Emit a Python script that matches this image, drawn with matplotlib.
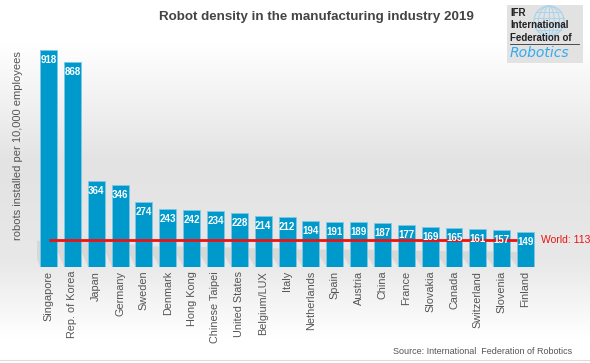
import matplotlib
matplotlib.use("Agg")
import matplotlib.pyplot as plt
import numpy as np
from matplotlib.patches import Polygon, Rectangle, Ellipse

countries = ["Singapore", "Rep. of Korea", "Japan", "Germany", "Sweden", "Denmark",
             "Hong Kong", "Chinese Taipei", "United States", "Belgium/LUX", "Italy",
             "Netherlands", "Spain", "Austria", "China", "France", "Slovakia",
             "Canada", "Switzerland", "Slovenia", "Finland"]
density = [918, 868, 364, 346, 274, 243, 242, 234, 228, 214, 212,
           194, 191, 189, 187, 177, 169, 165, 161, 157, 149]
world_avg = 113

title = "Robot density in the manufacturing industry 2019"
ylabel = "robots installed per 10,000 employees"
source = "Source: International  Federation of Robotics"

plt.rcParams['font.family'] = ['Liberation Sans', 'DejaVu Sans']

W, H = 590, 363
fig = plt.figure(figsize=(W / 100, H / 100), dpi=100)

# background gradient
bg = fig.add_axes([0, 0, 1, 1], zorder=-10)
ys = np.linspace(0, 1, 400)
stops_y = [0.0, 0.12, 0.45, 0.72, 0.93, 1.0]
stops_v = [1.0, 1.0, 0.89, 0.91, 1.0, 1.0]
vals = np.interp(ys, stops_y, stops_v)
img = np.repeat(vals[:, None], 2, axis=1)
bg.imshow(np.dstack([img, img, img]), aspect='auto', extent=[0, 1, 1, 0], interpolation='bilinear')
bg.set_xlim(0, 1); bg.set_ylim(1, 0)
bg.axis('off')
bg.plot([0, 1], [0.993, 0.993], color='#dcdcdc', lw=0.8)

# main axes
L = 36.6; Wd = 500.9
bottom_px = 266.7; top_px = 42.5
ax = fig.add_axes([L / W, (H - bottom_px) / H, Wd / W, (bottom_px - top_px) / H])
ax.patch.set_alpha(0)
x = np.arange(len(countries))
bw = 0.71
ax.set_xlim(-0.5, len(countries) - 0.5)
ax.set_ylim(0, 950)

# shadows
for xi, v in zip(x, density):
    hgt = min(0.25 * v + 25, 110)
    s = 0.45
    poly = Polygon([(xi - bw / 2, 0), (xi + bw / 2, 0), (xi + bw / 2 - s, hgt), (xi - bw / 2 - s, hgt)],
                   closed=True, facecolor='#9a9a9a', alpha=0.2, edgecolor='none', zorder=1)
    ax.add_patch(poly)

bars = ax.bar(x, density, width=bw, color='#0099cc', edgecolor='#7cc8e6', linewidth=0.6, zorder=2)
for xi, v in zip(x, density):
    ax.annotate(str(v), (xi, v), xytext=(0, -10), textcoords='offset pixels',
                ha='center', va='center', color='white', fontsize=7, fontweight='bold', zorder=4)

ax.plot([x[0], x[-1] - 0.35], [world_avg, world_avg], color='#ee1111', lw=2, zorder=3, solid_capstyle='butt')
ax.text(x[-1] + 0.65, world_avg, f"World: {world_avg}", color='#ee1111', fontsize=7.5,
        ha='left', va='center', clip_on=False)

for sp in ax.spines.values():
    sp.set_visible(False)
ax.set_yticks([])
ax.set_xticks(x)
ax.set_xticklabels(countries, rotation=90, fontsize=7.8, color='#555555')
ax.tick_params(axis='x', length=0, pad=3)

fig.text(316 / W, 1 - 17 / H, title, ha='center', va='center', fontsize=9.6,
         fontweight='bold', color='#444444')
fig.text(18 / W, 1 - 146 / H, ylabel, rotation=90, ha='center', va='center',
         fontsize=8, color='#555555')
fig.text(572 / W, 1 - 352 / H, source, ha='right', va='center', fontsize=6.5, color='#555555')

# logo
lg = fig.add_axes([507 / W, 1 - 63 / H, 76 / W, 58 / H])
lg.set_xlim(0, 76); lg.set_ylim(58, 0)
lg.axis('off')
lg.add_patch(Rectangle((0, 0), 76, 58, facecolor='#e2e2e2', edgecolor='none'))
gc = '#a8d4ec'
cx, cy, r = 42, 16, 15
lg.add_patch(Ellipse((cx, cy), 2 * r, 2 * r, fill=False, edgecolor=gc, lw=0.9))
for rw in [0.35, 0.7]:
    lg.add_patch(Ellipse((cx, cy), 2 * r * rw, 2 * r, fill=False, edgecolor=gc, lw=0.7))
for dy in [-9, -3, 3, 9]:
    hw = np.sqrt(max(r ** 2 - dy ** 2, 0))
    lg.plot([cx - hw, cx + hw], [cy + dy, cy + dy], color=gc, lw=0.7)
lg.plot([cx, cx], [cy - r, cy + r], color=gc, lw=0.7)
lg.text(3, 8, "IFR", fontsize=7, fontweight='bold', color='#222222', va='center')
lg.text(3, 20.5, "International", fontsize=7, fontweight='bold', color='#222222', va='center')
lg.text(3, 33, "Federation of", fontsize=7, fontweight='bold', color='#222222', va='center')
lg.plot([3, 72], [39, 39], color='#333333', lw=0.6)
lg.text(3, 48, "Robotics", fontsize=10, style='italic', color='#33aaee', va='center',
        family=['DejaVu Sans'])

fig.savefig("out.png", dpi=100)
